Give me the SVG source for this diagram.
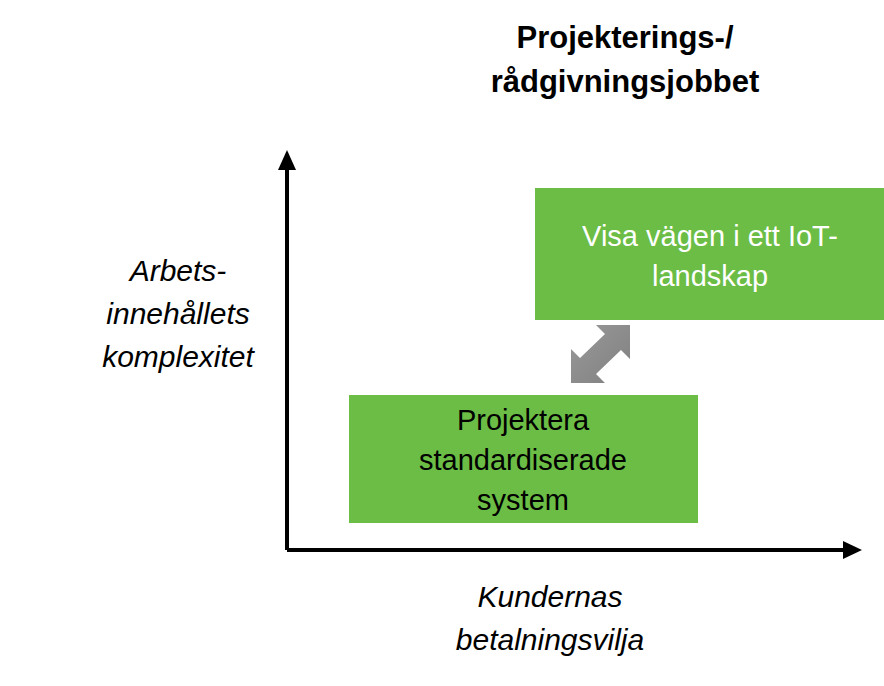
<svg xmlns="http://www.w3.org/2000/svg" width="884" height="686" viewBox="0 0 884 686">
<style>
.t{font-family:"Liberation Sans",Arial,sans-serif;}
.b{font-size:31px;font-weight:bold;fill:#000;text-anchor:middle}
.i{font-size:30px;font-style:italic;fill:#000;text-anchor:middle}
.w{font-size:29px;fill:#fff;text-anchor:middle}
.k{font-size:29px;fill:#000;text-anchor:middle}
.box{fill:#6bbd45}
</style>
<defs>
<linearGradient id="g" x1="0" y1="0" x2="1" y2="1"><stop offset="0" stop-color="#999"/><stop offset="1" stop-color="#808080"/></linearGradient>
</defs>
<rect width="884" height="686" fill="#fff"/>
<g id="title"><text class="t b" x="625" y="48">Projekterings-/</text><text class="t b" x="625" y="92">rådgivningsjobbet</text></g>
<g id="connectors">
<path d="M287 550 V168 M287 550 H845" stroke="#000" stroke-width="4" fill="none"/>
<polygon points="278,170 287,150 296,170" fill="#000"/>
<polygon points="843,541 862,550 843,559" fill="#000"/>
<polygon points="630,325 630,359 621,350 596,374 605,383 571,383 571,349 580,358 605,334 596,325" fill="url(#g)"/>
</g>
<g id="ylabel"><text class="t i" x="178" y="281">Arbets-</text><text class="t i" x="178" y="324">innehållets</text><text class="t i" x="178" y="367">komplexitet</text></g>
<g id="xlabel"><text class="t i" x="550" y="607">Kundernas</text><text class="t i" x="550" y="650">betalningsvilja</text></g>
<g id="iot"><rect class="box" x="535" y="188" width="350" height="132"/><text class="t w" x="710" y="246">Visa vägen i ett IoT-</text><text class="t w" x="710" y="286">landskap</text></g>
<g id="std"><rect class="box" x="349" y="395" width="349" height="128"/><text class="t k" x="523" y="430">Projektera</text><text class="t k" x="523" y="470">standardiserade</text><text class="t k" x="523" y="510">system</text></g>
</svg>
